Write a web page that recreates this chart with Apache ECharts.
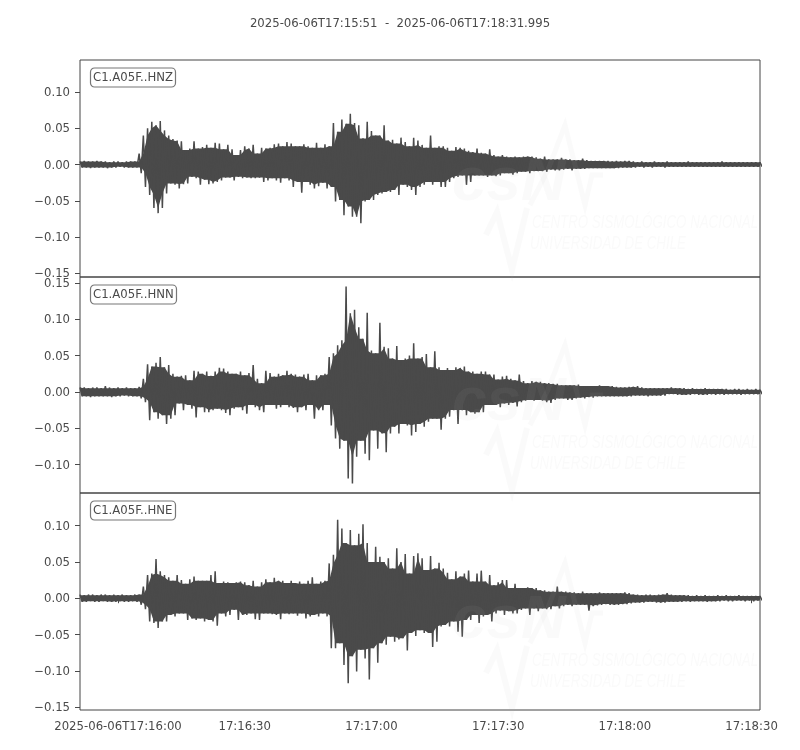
<!DOCTYPE html>
<html>
<head>
<meta charset="utf-8">
<style>html,body{margin:0;padding:0;background:#fff}#c{width:800px;height:750px}</style>
<script src="https://cdn.jsdelivr.net/npm/echarts@6/dist/echarts.min.js"></script>
</head>
<body>
<div id="c"></div>
<script>
// Envelope of each trace, read once per second from 17:15:51, in thousandths of the axis unit.
var hnzUpper = [4,5,4,4,5,4,4,3,4,4,3,4,4,4,15,40,50,59,54,60,47,40,35,33,32,20,22,32,22,24,27,23,30,29,21,27,21,13,20,25,22,27,15,23,22,23,28,29,25,31,29,25,25,28,25,23,30,23,28,25,57,45,62,56,70,57,54,36,59,46,40,40,54,33,34,29,37,31,25,37,33,27,23,40,23,25,25,23,19,24,23,22,19,17,22,16,15,21,13,11,13,11,10,11,10,11,11,11,10,8,11,7,7,7,9,7,7,6,6,8,6,5,5,5,5,5,4,5,4,5,5,4,3,4,3,3,4,3,3,4,3,3,3,3,4,3,3,3,3,3,3,3,4,3,3,3,3,3,3,3,3,3];
var hnzLower = [-4,-4,-5,-4,-4,-4,-5,-4,-4,-3,-4,-4,-4,-4,-12,-31,-42,-60,-67,-60,-40,-26,-28,-33,-27,-26,-17,-19,-28,-21,-27,-26,-24,-22,-18,-18,-22,-17,-19,-18,-19,-19,-18,-24,-22,-19,-22,-25,-19,-22,-31,-24,-39,-24,-28,-33,-30,-25,-33,-31,-51,-49,-70,-58,-72,-72,-81,-51,-49,-49,-42,-40,-38,-38,-35,-42,-28,-31,-35,-42,-31,-28,-24,-28,-24,-31,-31,-24,-19,-17,-15,-28,-24,-15,-15,-15,-17,-15,-16,-15,-12,-12,-14,-12,-10,-10,-12,-9,-9,-9,-10,-7,-8,-8,-7,-6,-8,-6,-6,-6,-5,-5,-5,-5,-5,-5,-5,-5,-4,-4,-4,-4,-3,-4,-3,-4,-3,-3,-4,-3,-3,-3,-3,-3,-3,-3,-3,-3,-3,-3,-3,-3,-3,-3,-3,-3,-3,-3,-3,-3,-3,-3];
var hnnUpper = [6,6,5,6,6,5,8,6,5,6,5,6,5,5,7,18,38,35,40,48,34,37,25,21,22,23,16,29,28,25,28,22,28,33,32,28,25,25,28,23,26,37,18,12,29,26,21,25,23,29,25,24,21,24,25,16,23,23,25,48,53,64,71,145,108,113,89,73,109,57,53,95,62,60,46,63,44,46,50,67,46,48,52,34,56,34,30,33,30,34,33,35,28,28,25,28,28,24,24,17,21,22,18,16,24,15,12,15,14,14,12,12,11,11,9,9,9,9,10,8,8,8,8,9,8,8,8,7,6,6,7,7,8,6,5,5,5,5,5,5,6,5,5,5,4,5,4,4,5,4,4,4,4,4,3,4,4,3,4,3,4,3];
var hnnLower = [-6,-6,-7,-6,-6,-6,-6,-7,-6,-6,-5,-6,-6,-6,-9,-14,-39,-28,-37,-32,-44,-37,-32,-16,-25,-18,-23,-35,-21,-28,-28,-25,-23,-25,-29,-32,-23,-21,-25,-30,-18,-21,-25,-28,-18,-18,-23,-21,-18,-21,-22,-28,-21,-25,-18,-37,-25,-25,-18,-46,-64,-78,-67,-119,-126,-89,-67,-85,-94,-53,-78,-57,-83,-57,-48,-57,-44,-46,-60,-55,-44,-48,-41,-37,-37,-52,-37,-34,-25,-44,-25,-32,-28,-30,-28,-28,-18,-18,-18,-21,-16,-18,-15,-20,-14,-12,-11,-12,-11,-12,-14,-15,-11,-9,-9,-11,-11,-9,-8,-9,-7,-8,-6,-6,-6,-6,-6,-6,-6,-6,-6,-5,-5,-5,-6,-5,-5,-5,-5,-3,-3,-4,-4,-4,-4,-3,-4,-4,-4,-3,-4,-3,-4,-3,-3,-3,-4,-3,-3,-3,-3,-3];
var hneUpper = [5,4,5,5,4,5,5,4,5,4,5,4,4,5,5,16,32,34,54,37,32,29,24,32,25,20,26,30,24,24,24,32,37,21,23,22,21,22,23,22,18,24,16,22,26,22,28,24,24,21,24,21,23,20,24,29,20,23,24,48,60,108,96,76,94,73,89,102,76,50,71,57,50,55,41,69,50,61,34,58,62,55,39,58,41,49,41,35,26,37,30,34,38,23,34,38,23,32,18,22,25,25,14,20,14,14,15,14,14,11,11,9,9,16,9,9,8,8,7,9,7,7,7,8,7,7,7,7,7,8,7,5,5,4,5,5,4,5,5,7,5,4,4,4,4,3,4,3,4,3,3,4,3,4,3,3,4,3,3,3,3,3];
var hneLower = [-5,-5,-4,-5,-5,-4,-5,-5,-5,-4,-5,-5,-4,-5,-9,-15,-32,-34,-41,-32,-32,-23,-25,-21,-21,-30,-28,-30,-28,-32,-30,-32,-38,-21,-25,-23,-16,-30,-23,-23,-21,-29,-30,-21,-21,-22,-23,-29,-21,-22,-21,-24,-21,-28,-25,-23,-25,-21,-25,-69,-69,-62,-92,-117,-80,-101,-71,-83,-112,-69,-89,-62,-64,-53,-60,-57,-55,-72,-48,-52,-44,-48,-48,-67,-60,-39,-37,-39,-32,-46,-53,-30,-30,-23,-34,-25,-23,-32,-21,-17,-23,-18,-21,-21,-16,-14,-23,-14,-18,-14,-15,-15,-11,-14,-11,-9,-11,-9,-9,-9,-17,-11,-10,-9,-8,-9,-9,-9,-8,-8,-7,-6,-6,-6,-5,-5,-6,-6,-6,-5,-5,-5,-5,-4,-5,-4,-4,-4,-5,-4,-4,-4,-3,-4,-4,-3,-3,-4,-3,-4,-3,-3];

var channelNames = ['C1.A05F..HNZ', 'C1.A05F..HNN', 'C1.A05F..HNE'];
var yTicksHnz = [-0.15, -0.10, -0.05, 0, 0.05, 0.10];
var yTicksHnn = [-0.10, -0.05, 0, 0.05, 0.10, 0.15];
var yTicksHne = [-0.15, -0.10, -0.05, 0, 0.05, 0.10];
var xTickSeconds = [9, 39, 69, 99, 129, 159];
var xTickLabels = ['2025-06-06T17:16:00', '17:16:30', '17:17:00', '17:17:30', '17:18:00', '17:18:30'];
var chartTitle = '2025-06-06T17:15:51  -  2025-06-06T17:18:31.995';

var INK = '#4a4a4a';
var FONT = '"DejaVu Sans"';
var FS = 11.7;
var X_MAX = 160.995;
var panels = [
  {top: 60,  height: 217, min: -0.155, max: 0.144, ticks: yTicksHnz, up: hnzUpper, lo: hnzLower},
  {top: 277, height: 216, min: -0.139, max: 0.158, ticks: yTicksHnn, up: hnnUpper, lo: hnnLower},
  {top: 493, height: 217, min: -0.154, max: 0.145, ticks: yTicksHne, up: hneUpper, lo: hneLower}
];

function zigzag(up, lo) {
  var out = [];
  for (var i = 0; i < up.length; i++) {
    out.push([i, up[i] / 1000]);
    out.push([i + 0.5, lo[i] / 1000]);
  }
  return out;
}
// Solid body of a trace: at each second, the smallest read excursion among it and its neighbours.
function bodyEdge(vals, off) {
  return vals.map(function (v, i) {
    var a = Math.abs(vals[Math.max(i - 1, 0)]), b = Math.abs(v), c = Math.abs(vals[Math.min(i + 1, vals.length - 1)]);
    return [Math.min(i + off, X_MAX), (v < 0 ? -1 : 1) * Math.min(a, b, c) / 1000];
  });
}
function yFmt(v) {
  return '{t|' + (v < -1e-9 ? '\u2212' : '') + Math.abs(v).toFixed(2) + '}';
}

var grids = [], xAxes = [], yAxes = [], series = [];
var titles = [{
  text: chartTitle, left: 'center', top: 13,
  textStyle: {color: INK, fontFamily: FONT, fontSize: FS, fontWeight: 'normal'}
}];
panels.forEach(function (p, i) {
  grids.push({left: 80, width: 680, top: p.top, height: p.height, show: true,
    borderColor: '#444', borderWidth: 1, backgroundColor: 'transparent', containLabel: false});
  var last = i === panels.length - 1;
  xAxes.push({type: 'value', gridIndex: i, min: 0, max: X_MAX, splitLine: {show: false},
    axisLine: {show: false},
    axisTick: {show: last, length: 5, lineStyle: {color: INK}, customValues: xTickSeconds},
    axisLabel: {show: last, color: INK, fontFamily: FONT, fontSize: FS, margin: 11, hideOverlap: false,
      customValues: xTickSeconds, showMinLabel: true, showMaxLabel: true,
      formatter: function (v) { return xTickLabels[xTickSeconds.indexOf(Math.round(v))] || ''; }}
  });
  yAxes.push({type: 'value', gridIndex: i, min: p.min, max: p.max, splitLine: {show: false},
    axisLine: {show: false},
    axisTick: {length: 5, lineStyle: {color: INK}, customValues: p.ticks},
    axisLabel: {color: INK, fontFamily: FONT, fontSize: FS, margin: 10, customValues: p.ticks,
      hideOverlap: false, formatter: yFmt,
      rich: {t: {color: INK, fontFamily: FONT, fontSize: FS, padding: [2, 0, 0, 0]}}}
  });
  var outline = bodyEdge(p.up, 0).concat(bodyEdge(p.lo, 0.5).reverse());
  series.push({type: 'custom', xAxisIndex: i, yAxisIndex: i, data: [[0, 0]], silent: true, z: 2,
    animation: false, clip: true,
    renderItem: function (params, api) {
      return {type: 'polygon', shape: {points: outline.map(function (d) { return api.coord(d); })},
        style: {fill: INK, stroke: null}};
    }});
  series.push({type: 'line', xAxisIndex: i, yAxisIndex: i, data: zigzag(p.up, p.lo),
    showSymbol: false, symbol: 'none', animation: false, sampling: false, clip: true, z: 3,
    lineStyle: {color: INK, width: 1.5, join: 'miter', miterLimit: 2}});
  titles.push({
    text: channelNames[i], left: 90, top: p.top + 7.5,
    padding: [3, 3, 3, 3], borderColor: '#777', borderWidth: 1.2, borderRadius: 4,
    backgroundColor: '#fff',
    textStyle: {color: INK, fontFamily: FONT, fontSize: FS, fontWeight: 'normal', lineHeight: 14}
  });
});

// Faint CSN watermark, repeated in each panel.
var WM = 'rgba(190,190,190,0.07)';
function watermark(dy) {
  return [
    {type: 'text', x: 452, y: 152 + dy, z: 50, silent: true,
      style: {text: 'csN', fill: WM, font: 'italic bold 62px "Liberation Sans"'}},
    {type: 'polyline', z: 50, silent: true,
      shape: {points: [[530,205+dy],[548,170+dy],[565,125+dy],[585,205+dy],[592,175+dy],[603,175+dy]]},
      style: {stroke: WM, lineWidth: 5, fill: null}},
    {type: 'polyline', z: 50, silent: true,
      shape: {points: [[486,235+dy],[497,212+dy],[512,270+dy],[527,208+dy]]},
      style: {stroke: WM, lineWidth: 6, fill: null}},
    {type: 'text', x: 532, y: 214 + dy, scaleX: 0.76, z: 50, silent: true,
      style: {text: 'CENTRO SISMOL\u00d3GICO NACIONAL', fill: WM, font: 'italic 17.5px "Liberation Sans"'}},
    {type: 'text', x: 530, y: 235 + dy, scaleX: 0.76, z: 50, silent: true,
      style: {text: 'UNIVERSIDAD DE CHILE', fill: WM, font: 'italic 17.5px "Liberation Sans"'}}
  ];
}
var graphics = [].concat(watermark(0), watermark(220), watermark(438));

var chart = echarts.init(document.getElementById('c'), null, {renderer: 'canvas'});
chart.setOption({
  animation: false, backgroundColor: '#fff',
  title: titles, grid: grids, xAxis: xAxes, yAxis: yAxes, series: series,
  graphic: {elements: graphics}
});
</script>
</body>
</html>
